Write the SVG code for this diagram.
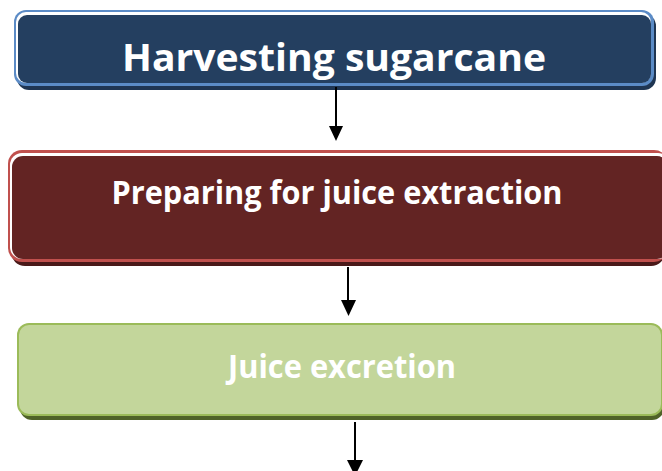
<svg xmlns="http://www.w3.org/2000/svg" width="662" height="471" viewBox="0 0 662 471">
<defs>
<style>
.t{font-family:"Open Sans","Liberation Sans",sans-serif;font-weight:bold;fill:#ffffff;text-anchor:middle}
.c{stroke:#000;stroke-width:2;fill:none}
</style>
</defs>
<rect width="662" height="471" fill="#ffffff"/>
<g id="node1">
<rect x="17" y="14" width="639" height="76" rx="12" fill="#1f3552"/>
<rect x="14" y="10" width="640" height="76" rx="12" fill="#5b8bc6"/>
<rect x="16" y="12" width="635" height="71" rx="10" fill="#ffffff"/>
<rect x="18" y="15" width="633" height="68" rx="9" fill="#243f60"/>
<text class="t" x="334" y="71" font-size="38" textLength="424" lengthAdjust="spacingAndGlyphs">Harvesting sugarcane</text>
</g>
<g id="node2">
<rect x="11" y="154" width="654" height="112" rx="14" fill="#4a1919"/>
<rect x="8" y="150" width="660" height="112" rx="14" fill="#c0504d"/>
<rect x="10" y="153" width="660" height="106" rx="12" fill="#ffffff"/>
<rect x="12" y="156" width="656" height="103" rx="11" fill="#632423"/>
<text class="t" x="337" y="204" font-size="32" textLength="451" lengthAdjust="spacingAndGlyphs">Preparing for juice extraction</text>
</g>
<g id="node3">
<rect x="20" y="327" width="644" height="93" rx="12" fill="#4f6228"/>
<rect x="17" y="323" width="646" height="93" rx="12" fill="#9bbb59"/>
<rect x="19" y="325" width="642" height="89" rx="10" fill="#c3d69b"/>
<text class="t" x="342" y="378" font-size="32" textLength="228" lengthAdjust="spacingAndGlyphs">Juice excretion</text>
</g>
<g id="connectors">
<line class="c" x1="336" y1="87" x2="336" y2="127"/>
<polygon points="329,126 343,126 336,141" fill="#000"/>
<line class="c" x1="348" y1="267" x2="348" y2="301"/>
<polygon points="341,300 356,300 348.5,316" fill="#000"/>
<line class="c" x1="355" y1="422" x2="355" y2="461"/>
<polygon points="347,460 363,460 355,476" fill="#000"/>
</g>
</svg>
